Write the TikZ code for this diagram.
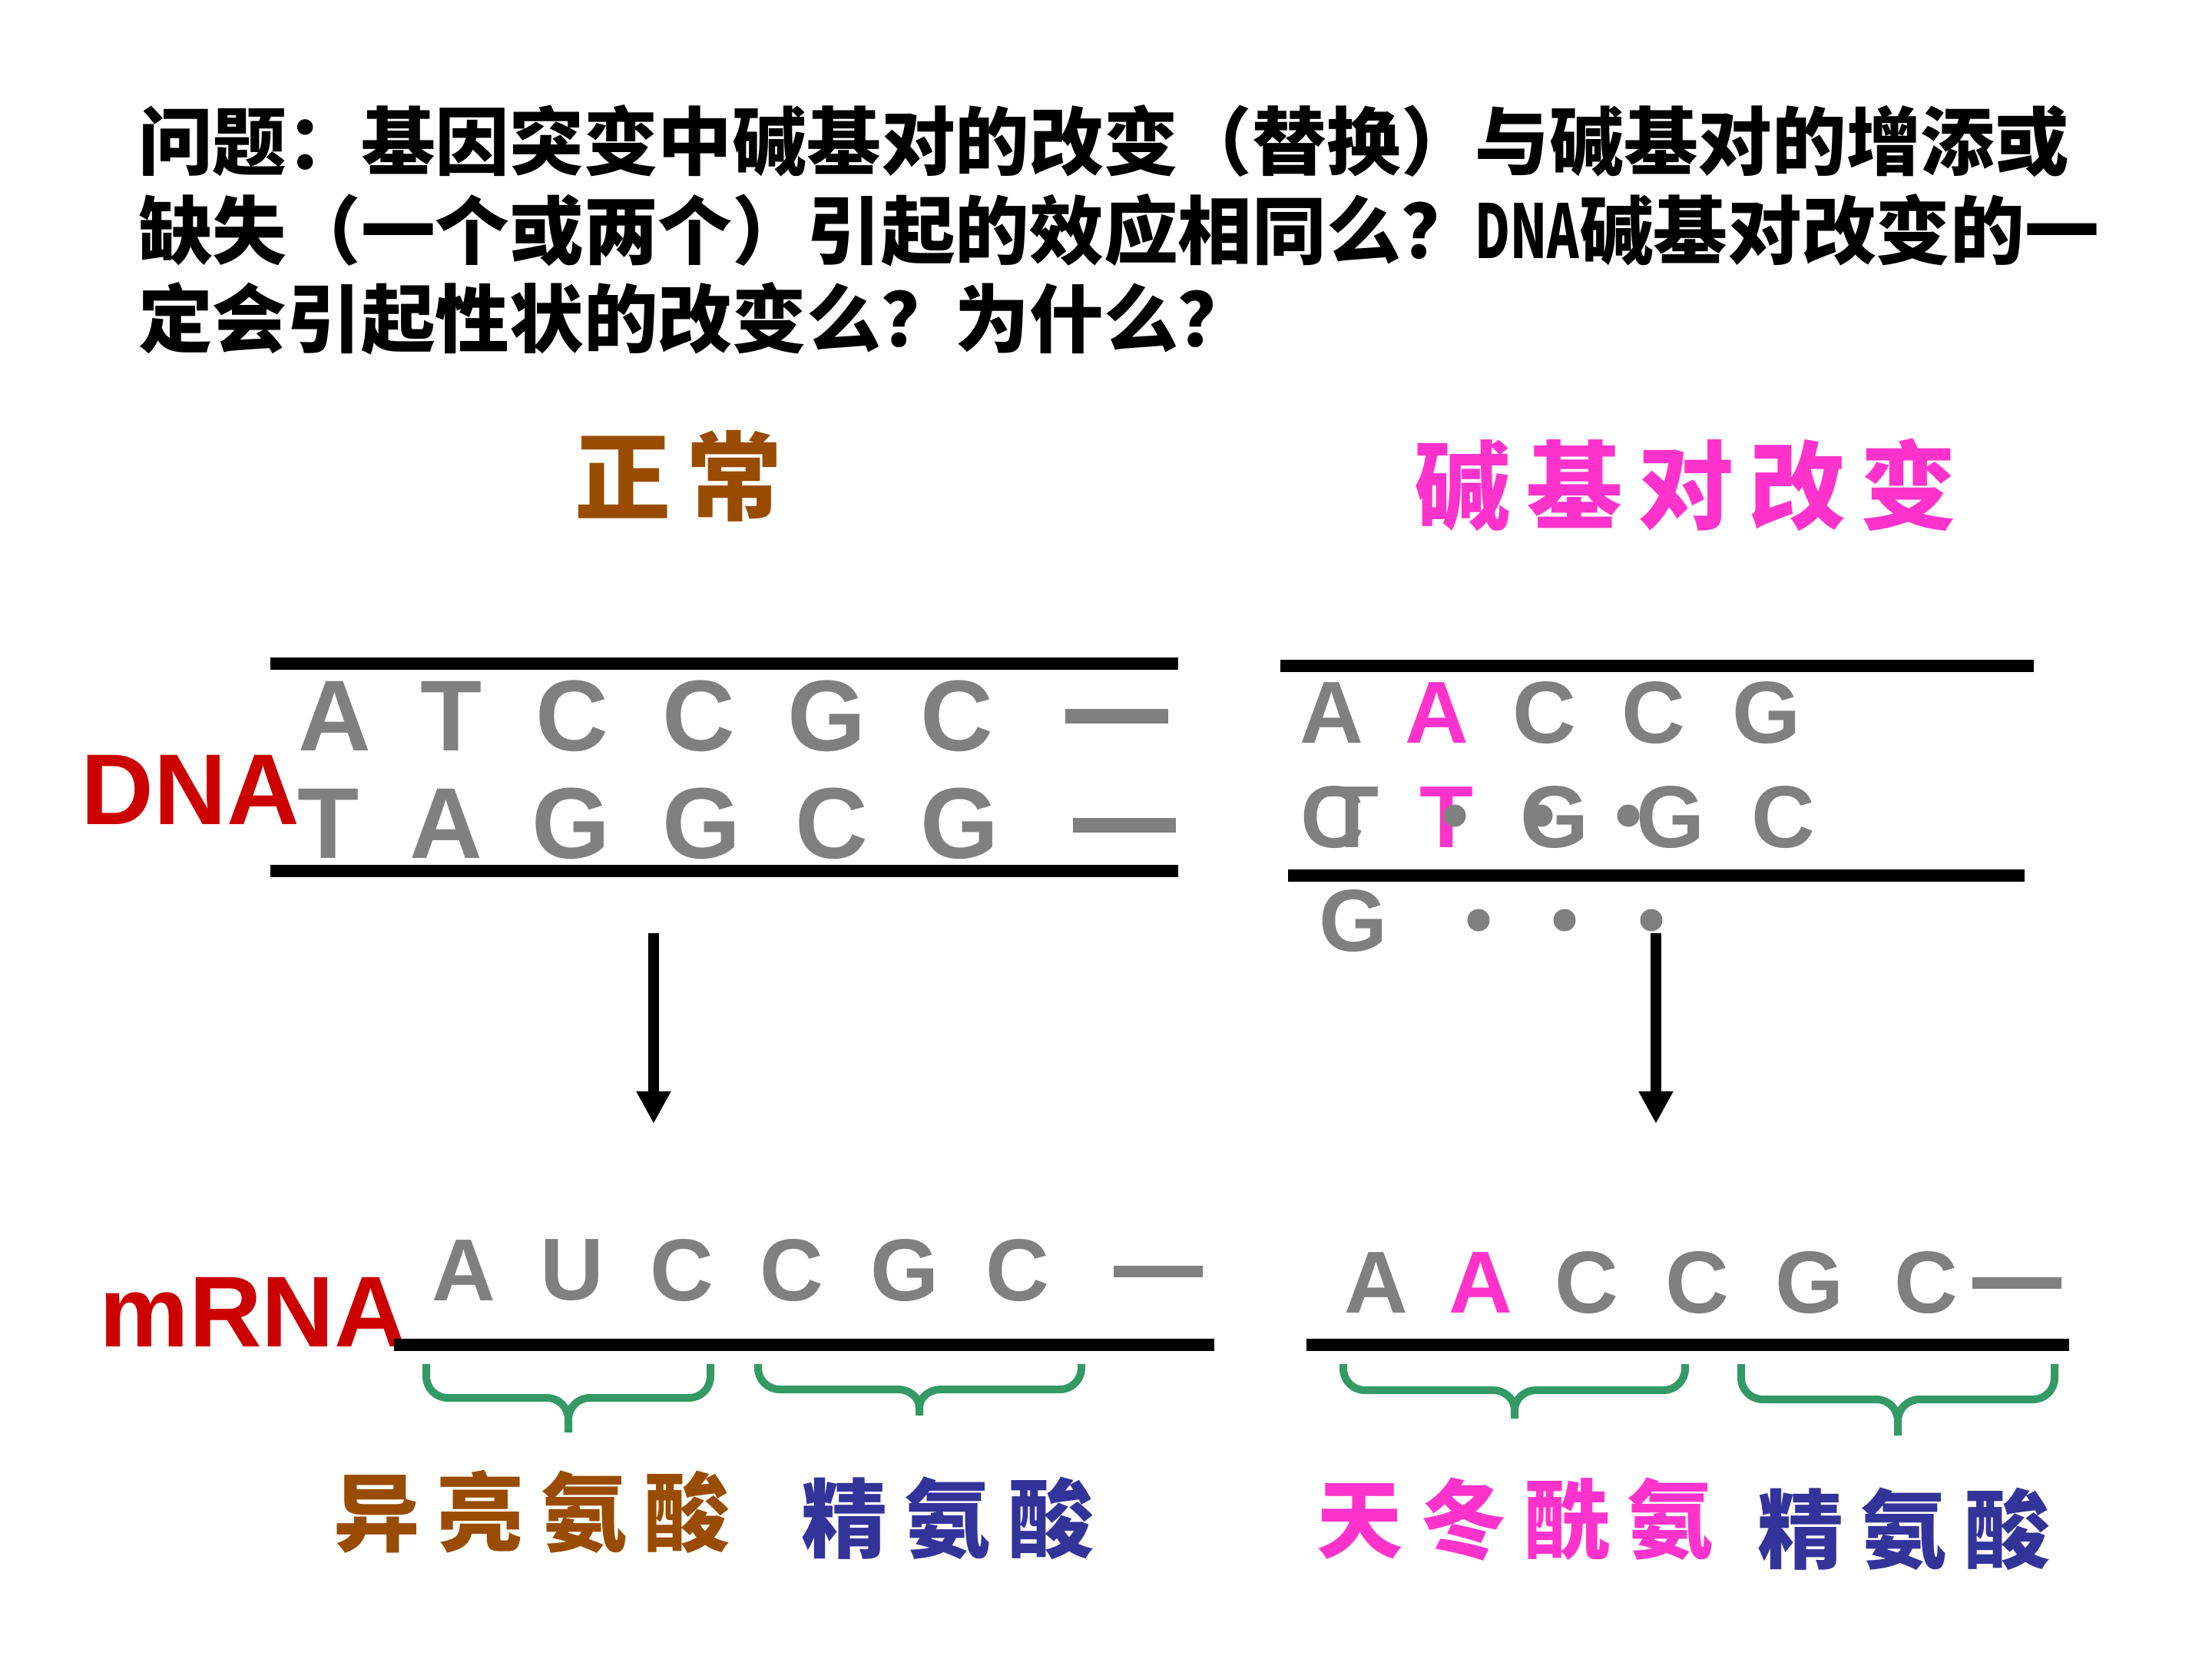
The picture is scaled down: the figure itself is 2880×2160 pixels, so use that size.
\documentclass[tikz,border=0pt]{standalone}
\usepackage{fontspec}
\setmainfont{Liberation Sans}
\newfontfamily\cjk{Noto Sans CJK SC}
\usetikzlibrary{positioning,arrows.meta}
\definecolor{baseGray}{HTML}{808080}
\definecolor{mutPink}{HTML}{FF33CC}
\definecolor{labelRed}{HTML}{CC0000}
\definecolor{normalBrown}{HTML}{994C00}
\definecolor{argBlue}{HTML}{333399}
\definecolor{braceGreen}{HTML}{339966}

\begin{document}
\begin{tikzpicture}[
    x=0.01cm, y=-0.01cm,
    every node/.style = {inner sep=0pt, outer sep=0pt},
    question/.style   = {anchor=west, font=\cjk\bfseries\fontsize{27.5}{33}\selectfont},
    heading/.style    = {font=\cjk\bfseries\fontsize{35.6}{40}\selectfont\addfontfeature{LetterSpace=16}},
    amino/.style      = {font=\cjk\bfseries\fontsize{31.9}{36}\selectfont\addfontfeature{LetterSpace=20}},
    mol/.style        = {text=labelRed, font=\bfseries\fontsize{37.3}{40}\selectfont},
    bigbase/.style    = {text=baseGray, font=\bfseries\fontsize{37.3}{40}\selectfont},
    base/.style       = {text=baseGray, font=\bfseries\fontsize{32.6}{36}\selectfont},
    mutbase/.style    = {base, text=mutPink},
    biggap/.style     = {fill=baseGray, minimum width=1.34cm, minimum height=0.19cm},
    gap/.style        = {fill=baseGray, minimum width=1.16cm, minimum height=0.15cm},
    dot/.style        = {circle, fill=baseGray, minimum size=0.29cm},
    strand/.style     = {line width=0.16cm},
    flow/.style       = {line width=0.14cm, -{Triangle[width=0.42cm,length=0.42cm]}},
    codon/.style      = {draw=braceGreen, line width=0.1cm},
  ]
  \useasboundingbox (0,0) rectangle (2880,2160);

  %% Question (three lines)
  \node[question] (q1) at (180,184) {问题：基因突变中碱基对的改变（替换）与碱基对的增添或};
  \node[question] (q2) at (180,300) {缺失（一个或两个）引起的效应相同么？\scalebox{0.65}[1]{DNA}碱基对改变的一};
  \node[question] (q3) at (180,415) {定会引起性状的改变么？为什么？};

  %% Column headings
  \node[heading, text=normalBrown] (normal) at ( 884,620) {正常};
  \node[heading, text=mutPink]     (change) at (2195,631) {碱基对改变};

  %% Normal DNA: two strands
  \draw[strand] (352,864)  -- (1534,864);
  \draw[strand] (352,1134) -- (1534,1134);
  \node[mol] (dna) at (248,1028) {DNA};
  \node[bigbase] (nt1) at ( 436,932) {A};
  \node[bigbase] (nt2) at ( 588,932) {T};
  \node[bigbase] (nt3) at ( 745,932) {C};
  \node[bigbase] (nt4) at ( 910,932) {C};
  \node[bigbase] (nt5) at (1077,932) {G};
  \node[bigbase] (nt6) at (1246,932) {C};
  \node[biggap]  (nt7) at (1454,932) {};
  \node[bigbase] (nb1) at ( 428,1072) {T};
  \node[bigbase] (nb2) at ( 581,1072) {A};
  \node[bigbase] (nb3) at ( 744,1072) {G};
  \node[bigbase] (nb4) at ( 914,1072) {G};
  \node[bigbase] (nb5) at (1083,1072) {C};
  \node[bigbase] (nb6) at (1250,1072) {G};
  \node[biggap]  (nb7) at (1464,1074) {};

  %% Changed DNA: two strands, one base pair replaced
  \draw[strand] (1667,867)  -- (2648,867);
  \draw[strand] (1677,1140) -- (2636,1140);
  \node[base]    (mt1) at (1734,928) {A};
  \node[mutbase] (mt2) at (1871,928) {A};
  \node[base]    (mt3) at (2011,928) {C};
  \node[base]    (mt4) at (2153,928) {C};
  \node[base]    (mt5) at (2300,928) {G};
  \node[base]    (mb1) at (1735,1064) {C};
  \node[base]    (mb0) at (1761,1064) {T};
  \node[mutbase] (mb2) at (1884,1064) {T};
  \node[base]    (mb3) at (2024,1064) {G};
  \node[base]    (mb4) at (2175,1064) {G};
  \node[base]    (mb5) at (2322,1064) {C};
  \node[dot] (md1) at (1894,1062) {};
  \node[dot] (md2) at (2007,1062) {};
  \node[dot] (md3) at (2120,1062) {};
  \node[base] (mx1) at (1762,1199) {G};
  \node[dot]  (mx2) at (1925,1198) {};
  \node[dot]  (mx3) at (2037,1198) {};
  \node[dot]  (mx4) at (2150,1198) {};

  %% Transcription arrows
  \coordinate (normalFrom) at (851,1215);
  \coordinate (normalTo)   at (851,1463);
  \coordinate (changeFrom) at (2156,1215);
  \coordinate (changeTo)   at (2156,1463);
  \draw[flow] (normalFrom) -- (normalTo);
  \draw[flow] (changeFrom) -- (changeTo);

  %% Normal mRNA
  \node[mol] (mrna) at (330,1708) {mRNA};
  \draw[strand] (513,1751) -- (1581,1751);
  \node[base] (rn1) at ( 604,1654) {A};
  \node[base] (rn2) at ( 745,1654) {U};
  \node[base] (rn3) at ( 888,1654) {C};
  \node[base] (rn4) at (1031,1654) {C};
  \node[base] (rn5) at (1178,1654) {G};
  \node[base] (rn6) at (1325,1654) {C};
  \node[gap]  (rn7) at (1508,1655) {};

  %% Changed mRNA
  \draw[strand] (1701,1751) -- (2694,1751);
  \node[base]    (rm1) at (1792,1670) {A};
  \node[mutbase] (rm2) at (1928,1670) {A};
  \node[base]    (rm3) at (2066,1670) {C};
  \node[base]    (rm4) at (2210,1670) {C};
  \node[base]    (rm5) at (2356,1670) {G};
  \node[base]    (rm6) at (2508,1670) {C};
  \node[gap]     (rm7) at (2626,1670) {};

  %% Codon braces (stub, corner, flat, cusp) and amino acids
  \draw[codon] (555,1776) -- (555,1792) to[out=-90,in=180] (583,1820) -- (712,1820)
               to[out=0,in=90] (740,1848) -- (740,1865)
               (740,1848) to[out=90,in=180] (768,1820) -- (897,1820)
               to[out=0,in=-90] (925,1792) -- (925,1776);
  \draw[codon] (987,1776) -- (987,1781) to[out=-90,in=180] (1015,1809) -- (1169,1809)
               to[out=0,in=90] (1197,1833) -- (1197,1843)
               (1197,1833) to[out=90,in=180] (1225,1809) -- (1380,1809)
               to[out=0,in=-90] (1408,1781) -- (1408,1776);
  \draw[codon] (1749,1776) -- (1749,1782) to[out=-90,in=180] (1777,1810) -- (1944,1810)
               to[out=0,in=90] (1972,1836) -- (1972,1847)
               (1972,1836) to[out=90,in=180] (2000,1810) -- (2166,1810)
               to[out=0,in=-90] (2194,1782) -- (2194,1776);
  \draw[codon] (2267,1776) -- (2267,1794) to[out=-90,in=180] (2295,1822) -- (2443,1822)
               to[out=0,in=90] (2471,1850) -- (2471,1869)
               (2471,1850) to[out=90,in=180] (2499,1822) -- (2647,1822)
               to[out=0,in=-90] (2675,1794) -- (2675,1776);
  \node[amino, text=normalBrown] (ile)  at ( 693,1968) {异亮氨酸};
  \node[amino, text=argBlue]     (arg1) at (1234,1977) {精氨酸};
  \node[amino, text=mutPink]     (asn)  at (1973,1978) {天冬酰氨};
  \node[amino, text=argBlue]     (arg2) at (2479,1991) {精氨酸};

\end{tikzpicture}
\end{document}
